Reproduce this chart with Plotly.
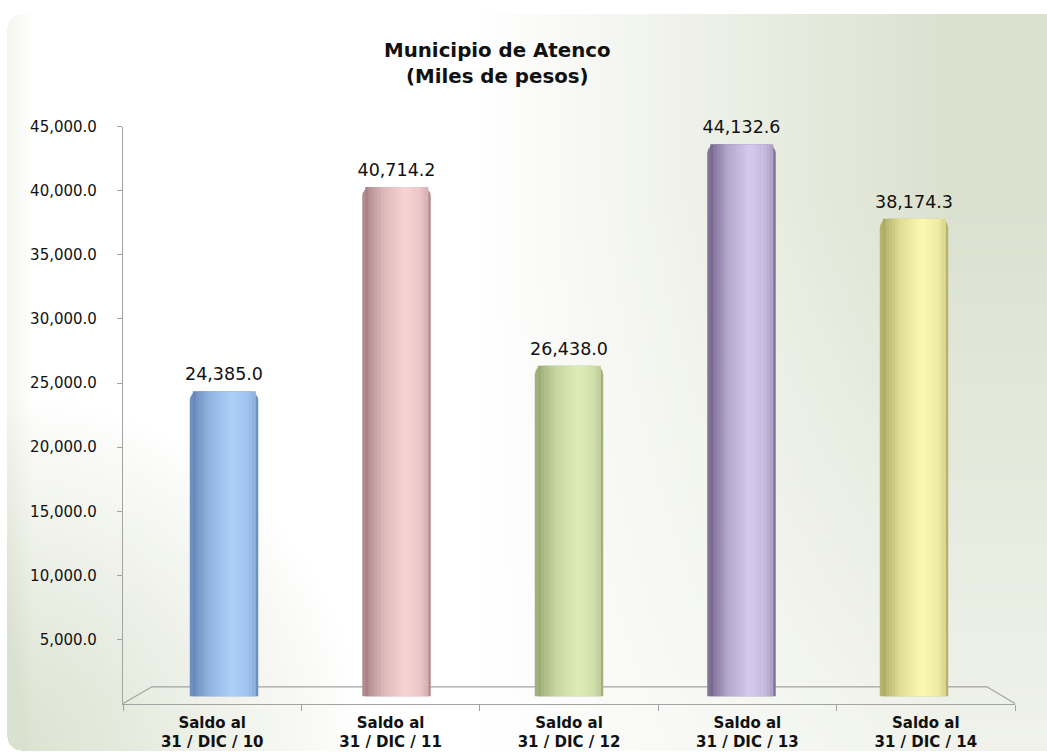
import base64, struct, zlib
import numpy as np
import plotly.graph_objects as go

# ---------------- data ----------------
categories = ["Saldo al<br>31 / DIC / 10", "Saldo al<br>31 / DIC / 11", "Saldo al<br>31 / DIC / 12",
              "Saldo al<br>31 / DIC / 13", "Saldo al<br>31 / DIC / 14"]
values = [24385.0, 40714.2, 26438.0, 44132.6, 38174.3]
tick_values = [5000, 10000, 15000, 20000, 25000, 30000, 35000, 40000, 45000]
tick_labels = ["5,000.0", "10,000.0", "15,000.0", "20,000.0", "25,000.0",
               "30,000.0", "35,000.0", "40,000.0", "45,000.0"]
title_lines = ["Municipio de Atenco", "(Miles de pesos)"]

# bar colours (dark edge, light highlight)
dark_cols = [(84, 116, 168), (146, 108, 112), (136, 152, 96), (92, 78, 114), (152, 148, 80)]
light_cols = [(172, 208, 248), (249, 212, 212), (222, 236, 184), (214, 202, 238), (252, 250, 178)]

W, H = 1047, 753


def px_x(p):
    return p / W


def px_y(p):
    return 1 - p / H


# ---------------- background gradient image ----------------
yy, xx = np.mgrid[0:H, 0:W].astype(float)
tr = np.clip((xx - 480) / 470, 0, 1) * np.clip(1.2 - yy / H * 0.8, 0, 1)
bl = np.clip(1 - np.sqrt(xx ** 2 + (H - yy) ** 2) / 360, 0, 1) ** 0.9
edge = np.clip(1 - (xx - 7) / 25, 0, 1) * 0.3
t = np.clip(np.maximum(tr, bl) + edge, 0, 1)
white = np.array([255, 255, 255], float)
green = np.array([219, 225, 207], float)
img = white[None, None, :] * (1 - t[..., None]) + green[None, None, :] * t[..., None]
# rounded panel mask
x0, y0, x1, y1, r = 7, 5, W + 20, 750, 14
inside = (xx >= x0) & (xx <= x1) & (yy >= y0) & (yy <= y1)
for cx, cy, sx, sy in [(x0 + r, y0 + r, -1, -1), (x0 + r, y1 - r, -1, 1)]:
    region = ((xx - cx) * sx > 0) & ((yy - cy) * sy > 0)
    outside_circle = (xx - cx) ** 2 + (yy - cy) ** 2 > r ** 2
    inside &= ~(region & outside_circle)
img[~inside] = 255
img = np.clip(img, 0, 255).astype(np.uint8)


def png_uri(arr):
    h, w, _ = arr.shape
    raw = b"".join(b"\x00" + arr[i].tobytes() for i in range(h))

    def chunk(tag, data):
        return (struct.pack(">I", len(data)) + tag + data +
                struct.pack(">I", zlib.crc32(tag + data) & 0xFFFFFFFF))
    png = (b"\x89PNG\r\n\x1a\n" +
           chunk(b"IHDR", struct.pack(">IIBBBBB", w, h, 8, 2, 0, 0, 0)) +
           chunk(b"IDAT", zlib.compress(raw, 9)) + chunk(b"IEND", b""))
    return "data:image/png;base64," + base64.b64encode(png).decode()


bg_uri = png_uri(img)

# ---------------- bars ----------------
fig = go.Figure()

bar_w = 0.397
shade_p = [0.0, 0.10, 0.30, 0.62, 0.85, 1.0]
shade_s = [0.0, 0.35, 0.72, 1.0, 0.86, 0.55]


def mix(c0, c1, s):
    return "rgb(%d,%d,%d)" % tuple(round(a + (b - a) * s) for a, b in zip(c0, c1))


# base (rounded) bars
fig.add_trace(go.Bar(
    x=categories, y=values, width=bar_w, xaxis="x", yaxis="y2",
    marker=dict(color=[mix(d, l, 0.3) for d, l in zip(dark_cols, light_cols)],
                line=dict(width=0), cornerradius=9),
    showlegend=False, hoverinfo="skip"))

# cylinder shading strips
edge_u = 3.0 / 172.5
n_strips = 20
inner = bar_w - 2 * edge_u
step = inner / n_strips
for i in range(n_strips):
    off = -bar_w / 2 + edge_u + i * step
    p = (edge_u + (i + 0.5) * step) / bar_w
    s = float(np.interp(p, shade_p, shade_s))
    fig.add_trace(go.Bar(
        x=categories, y=values, width=step * 1.2, offset=off, xaxis="x", yaxis="y2",
        marker=dict(color=[mix(d, l, s) for d, l in zip(dark_cols, light_cols)],
                    line=dict(width=0)),
        showlegend=False, hoverinfo="skip"))

# value labels above the bars
fig.add_trace(go.Scatter(
    x=categories, y=values, xaxis="x", yaxis="y2", mode="markers+text",
    marker=dict(size=9, opacity=0), text=[f"{v:,.1f}" for v in values],
    textposition="top center", cliponaxis=False,
    textfont=dict(family="DejaVu Sans", size=17.5, color="#111111"),
    showlegend=False, hoverinfo="skip"))

# helper trace so the category (label) axis is drawn
fig.add_trace(go.Scatter(x=categories, y=[None] * len(categories), xaxis="x2", yaxis="y",
                         mode="markers", showlegend=False, hoverinfo="skip"))

axis_grey = "#a3a3a3"

# floor (3-D base) outline
floor_path = "M {a},{b} L {c},{d} L {e},{d} L {f},{b}".format(
    a=px_x(123), b=px_y(703), c=px_x(152), d=px_y(686), e=px_x(987), f=px_x(1015))

fig.update_layout(
    width=W, height=H,
    margin=dict(l=0, r=0, t=0, b=0),
    paper_bgcolor="white", plot_bgcolor="rgba(0,0,0,0)",
    barmode="overlay",
    images=[dict(source=bg_uri, xref="paper", yref="paper", x=0, y=1, sizex=1, sizey=1,
                 xanchor="left", yanchor="top", sizing="stretch", layer="below")],
    shapes=[dict(type="path", path=floor_path, xref="paper", yref="paper",
                 line=dict(color=axis_grey, width=1.2), layer="below")],
    xaxis=dict(domain=[px_x(137.75), px_x(1000.25)], anchor="y2", visible=False,
               type="category", range=[-0.5, 4.5], categoryarray=categories,
               categoryorder="array"),
    yaxis2=dict(domain=[px_y(695.7), px_y(126)], anchor="x", visible=False,
                range=[0, 45000]),
    xaxis2=dict(domain=[px_x(123), px_x(1015)], anchor="y", type="category",
                range=[-0.5, 4.5], categoryarray=categories, categoryorder="array",
                showline=True, linecolor=axis_grey, linewidth=1.2,
                ticks="outside", tickson="boundaries", ticklen=6, tickcolor=axis_grey,
                ticklabelstandoff=5,
                showgrid=False, zeroline=False,
                tickfont=dict(family="DejaVu Sans", size=15, color="#111111", weight="bold")),
    yaxis=dict(domain=[px_y(703), px_y(119)], anchor="x2", range=[0, 45000],
               tickmode="array", tickvals=tick_values, ticktext=tick_labels,
               showline=True, linecolor=axis_grey, linewidth=1.2,
               ticks="outside", ticklen=5, tickcolor=axis_grey, ticklabelstandoff=17,
               showgrid=False, zeroline=False,
               tickfont=dict(family="DejaVu Sans", size=15, color="#111111")),
    annotations=[dict(text="<b>" + title_lines[0] + "</b><br><b>" + title_lines[1] + "</b>",
                      xref="paper", yref="paper", x=px_x(497), y=px_y(55.5),
                      xanchor="center", yanchor="middle", showarrow=False,
                      font=dict(family="DejaVu Sans", size=19.8, color="#111111"))],
)

fig.write_html("out.html", config={"displayModeBar": False},
               post_script="document.body.style.margin='0px';document.body.style.padding='0px';")
